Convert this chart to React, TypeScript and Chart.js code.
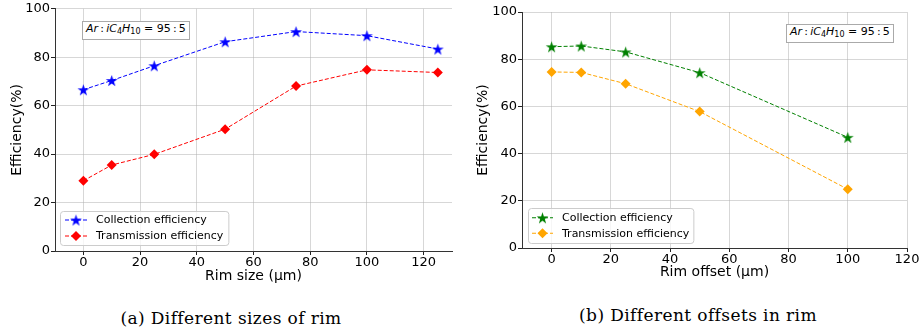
import React, { useEffect, useRef } from 'react';
import { Chart, registerables } from 'chart.js';

Chart.register(...registerables);

// ---------- data ----------
const rimSizes = [0, 10, 25, 50, 75, 100, 125];
const sizeCollection = [66.6, 70.4, 76.5, 86.4, 90.6, 88.9, 83.4];
const sizeTransmission = [29.0, 35.5, 39.9, 50.3, 68.1, 74.8, 73.7];

const rimOffsets = [0, 10, 25, 50, 100];
const offsetCollection = [85.3, 85.6, 83.1, 74.3, 46.9];
const offsetTransmission = [74.6, 74.4, 69.6, 57.8, 24.9];

const yTickValues = [0, 20, 40, 60, 80, 100];
const xTickValues = [0, 20, 40, 60, 80, 100, 120];

const seriesLabels = ['Collection efficiency', 'Transmission efficiency'];

const FONT = '"DejaVu Sans", sans-serif';

function makeStar(color: string, r: number): HTMLCanvasElement {
  const size = Math.ceil(r * 2) + 2;
  const c = document.createElement('canvas');
  c.width = size;
  c.height = size;
  const ctx = c.getContext('2d')!;
  const cx = size / 2;
  const cy = size / 2 + r * 0.1;
  ctx.beginPath();
  for (let i = 0; i < 10; i++) {
    const rad = i % 2 === 0 ? r : r * 0.382;
    const a = -Math.PI / 2 + (i * Math.PI) / 5;
    const px = cx + rad * Math.cos(a);
    const py = cy + rad * Math.sin(a);
    if (i === 0) ctx.moveTo(px, py);
    else ctx.lineTo(px, py);
  }
  ctx.closePath();
  ctx.fillStyle = color;
  ctx.fill();
  return c;
}

const legendPlugin = {
  id: 'innerLegend',
  afterDraw(chart: any, _args: any, opts: any) {
    const { ctx, chartArea } = chart;
    ctx.save();
    ctx.font = `11px ${FONT}`;
    const ds = chart.data.datasets;
    const textW = Math.max(...ds.map((d: any) => ctx.measureText(d.label).width));
    const w = opts.padX + opts.lineLen + opts.gap + textW + opts.padX;
    const h = opts.rowH * ds.length + opts.padY * 2;
    const x = chartArea.left + opts.offsetX;
    const y = chartArea.bottom - opts.offsetY - h;
    ctx.beginPath();
    if ((ctx as any).roundRect) (ctx as any).roundRect(x + 0.5, y + 0.5, w, h, 3);
    else ctx.rect(x + 0.5, y + 0.5, w, h);
    ctx.fillStyle = 'rgba(255,255,255,0.8)';
    ctx.fill();
    ctx.strokeStyle = '#cccccc';
    ctx.lineWidth = 1;
    ctx.stroke();
    ds.forEach((d: any, i: number) => {
      const cy = y + opts.padY + opts.rowH * (i + 0.5);
      const lx = x + opts.padX;
      ctx.beginPath();
      ctx.setLineDash(d.borderDash || []);
      ctx.strokeStyle = d.borderColor;
      ctx.lineWidth = d.borderWidth;
      ctx.moveTo(lx, cy);
      ctx.lineTo(lx + opts.lineLen, cy);
      ctx.stroke();
      ctx.setLineDash([]);
      const mx = lx + opts.lineLen / 2;
      if (typeof d.pointStyle !== 'string') {
        const img = d.pointStyle as HTMLCanvasElement;
        ctx.drawImage(img, mx - img.width / 2, cy - img.height / 2);
      } else {
        const r = d.pointRadius;
        ctx.beginPath();
        ctx.moveTo(mx, cy - r);
        ctx.lineTo(mx + r, cy);
        ctx.lineTo(mx, cy + r);
        ctx.lineTo(mx - r, cy);
        ctx.closePath();
        ctx.fillStyle = d.pointBackgroundColor;
        ctx.fill();
      }
      ctx.fillStyle = '#000';
      ctx.textAlign = 'left';
      ctx.textBaseline = 'middle';
      ctx.fillText(d.label, lx + opts.lineLen + opts.gap, cy + 0.5);
    });
    ctx.restore();
  },
};

type PanelCfg = {
  xs: number[];
  coll: number[];
  trans: number[];
  collColor: string;
  transColor: string;
  xTitle: string;
  xMin: number;
  xMax: number;
  yAxisWidth: number;
  xAxisHeight: number;
  padTop: number;
  padRight: number;
  yTitlePad: number;
  xTitlePad: number;
  legend: any;
};

function buildConfig(p: PanelCfg): any {
  const star = makeStar(p.collColor, 6.2);
  return {
    type: 'scatter',
    data: {
      datasets: [
        {
          label: seriesLabels[0],
          data: p.xs.map((x, i) => ({ x, y: p.coll[i] })),
          showLine: true,
          borderColor: p.collColor,
          backgroundColor: p.collColor,
          borderWidth: 1,
          borderDash: [4, 2],
          pointStyle: star,
          pointRadius: 6,
          pointBackgroundColor: p.collColor,
          pointBorderWidth: 0,
        },
        {
          label: seriesLabels[1],
          data: p.xs.map((x, i) => ({ x, y: p.trans[i] })),
          showLine: true,
          borderColor: p.transColor,
          backgroundColor: p.transColor,
          borderWidth: 1,
          borderDash: [4, 2],
          pointStyle: 'rectRot',
          pointRadius: 5,
          pointBackgroundColor: p.transColor,
          pointBorderColor: p.transColor,
          pointBorderWidth: 0,
        },
      ],
    },
    options: {
      responsive: false,
      animation: false,
      devicePixelRatio: 1,
      layout: { padding: { left: 0, top: p.padTop, right: p.padRight, bottom: 0 } },
      plugins: {
        legend: { display: false },
        tooltip: { enabled: false },
        innerLegend: p.legend,
      },
      scales: {
        x: {
          type: 'linear',
          min: p.xMin,
          max: p.xMax,
          afterBuildTicks: (s: any) => {
            s.ticks = xTickValues.map((v) => ({ value: v }));
          },
          afterFit: (s: any) => {
            s.height = p.xAxisHeight;
          },
          ticks: {
            font: { family: FONT, size: 13 },
            color: '#000',
            padding: 0,
            maxRotation: 0,
          },
          grid: {
            color: 'rgba(176,176,176,0.5)',
            tickColor: '#222',
            tickLength: 4,
          },
          border: { color: '#333', width: 1 },
          title: {
            display: true,
            text: p.xTitle,
            font: { family: FONT, size: 14 },
            color: '#000',
            padding: { top: 0, bottom: p.xTitlePad },
          },
        },
        y: {
          type: 'linear',
          min: 0,
          max: 100,
          afterBuildTicks: (s: any) => {
            s.ticks = yTickValues.map((v) => ({ value: v }));
          },
          afterFit: (s: any) => {
            s.width = p.yAxisWidth;
          },
          ticks: {
            font: { family: FONT, size: 13 },
            color: '#000',
            padding: 1,
          },
          grid: {
            color: 'rgba(176,176,176,0.5)',
            tickColor: '#222',
            tickLength: 4,
          },
          border: { color: '#333', width: 1 },
          title: {
            display: true,
            text: 'Efficiency(%)',
            font: { family: FONT, size: 14 },
            color: '#000',
            padding: { top: p.yTitlePad, bottom: 0 },
          },
        },
      },
    },
    plugins: [legendPlugin],
  };
}

const leftPanel: PanelCfg = {
  xs: rimSizes,
  coll: sizeCollection,
  trans: sizeTransmission,
  collColor: '#0000ff',
  transColor: '#ff0000',
  xTitle: 'Rim size (μm)',
  xMin: -10,
  xMax: 130,
  yAxisWidth: 55,
  xAxisHeight: 39,
  padTop: 8,
  padRight: 8,
  yTitlePad: 8.5,
  xTitlePad: 5.5,
  legend: { offsetX: 5, offsetY: 6, padX: 5, padY: 1, rowH: 16, lineLen: 22, gap: 9 },
};

const rightPanel: PanelCfg = {
  xs: rimOffsets,
  coll: offsetCollection,
  trans: offsetTransmission,
  collColor: '#008000',
  transColor: '#ffa500',
  xTitle: 'Rim offset (μm)',
  xMin: -10,
  xMax: 120,
  yAxisWidth: 62,
  xAxisHeight: 42,
  padTop: 12,
  padRight: 16,
  yTitlePad: 15,
  xTitlePad: 9,
  legend: { offsetX: 6, offsetY: 5, padX: 4, padY: 2, rowH: 15.5, lineLen: 21, gap: 9 },
};

const TS = '\u2009';

function Annotation({ left, top }: { left: number; top: number }) {
  return (
    <div
      style={{
        position: 'absolute',
        left,
        top,
        border: '1px solid #aaa',
        background: '#fff',
        padding: '0px 3px',
        fontFamily: FONT,
        fontSize: 11,
        lineHeight: '14px',
        color: '#000',
        whiteSpace: 'nowrap',
      }}
    >
      <i>Ar</i>{TS}:{TS}<i>iC</i>
      <sub style={{ fontSize: 8, verticalAlign: '-2px' }}>4</sub>
      <i>H</i>
      <sub style={{ fontSize: 8, verticalAlign: '-2px' }}>10</sub> = 95{TS}:{TS}5
    </div>
  );
}

const captionStyle: React.CSSProperties = {
  position: 'absolute',
  width: 340,
  textAlign: 'center',
  fontFamily: '"DejaVu Serif", serif',
  fontSize: 17,
  letterSpacing: '0.4px',
  lineHeight: '20px',
  color: '#000',
  whiteSpace: 'nowrap',
};

export default function App() {
  const leftRef = useRef<HTMLCanvasElement>(null);
  const rightRef = useRef<HTMLCanvasElement>(null);

  useEffect(() => {
    const c1 = new Chart(leftRef.current!, buildConfig(leftPanel));
    const c2 = new Chart(rightRef.current!, buildConfig(rightPanel));
    return () => {
      c1.destroy();
      c2.destroy();
    };
  }, []);

  return (
    <div
      style={{
        position: 'fixed',
        left: 0,
        top: 0,
        width: 923,
        height: 334,
        background: '#fff',
        overflow: 'hidden',
      }}
    >
      <canvas
        ref={leftRef}
        width={460}
        height={290}
        style={{ position: 'absolute', left: 0, top: 0, width: 460, height: 290 }}
      />
      <canvas
        ref={rightRef}
        width={463}
        height={290}
        style={{ position: 'absolute', left: 460, top: 0, width: 463, height: 290 }}
      />
      <Annotation left={82} top={21} />
      <Annotation left={786} top={24} />
      <div style={{ ...captionStyle, left: 231 - 170, top: 308 }}>(a) Different sizes of rim</div>
      <div style={{ ...captionStyle, left: 698 - 170, top: 305 }}>(b) Different offsets in rim</div>
    </div>
  );
}
